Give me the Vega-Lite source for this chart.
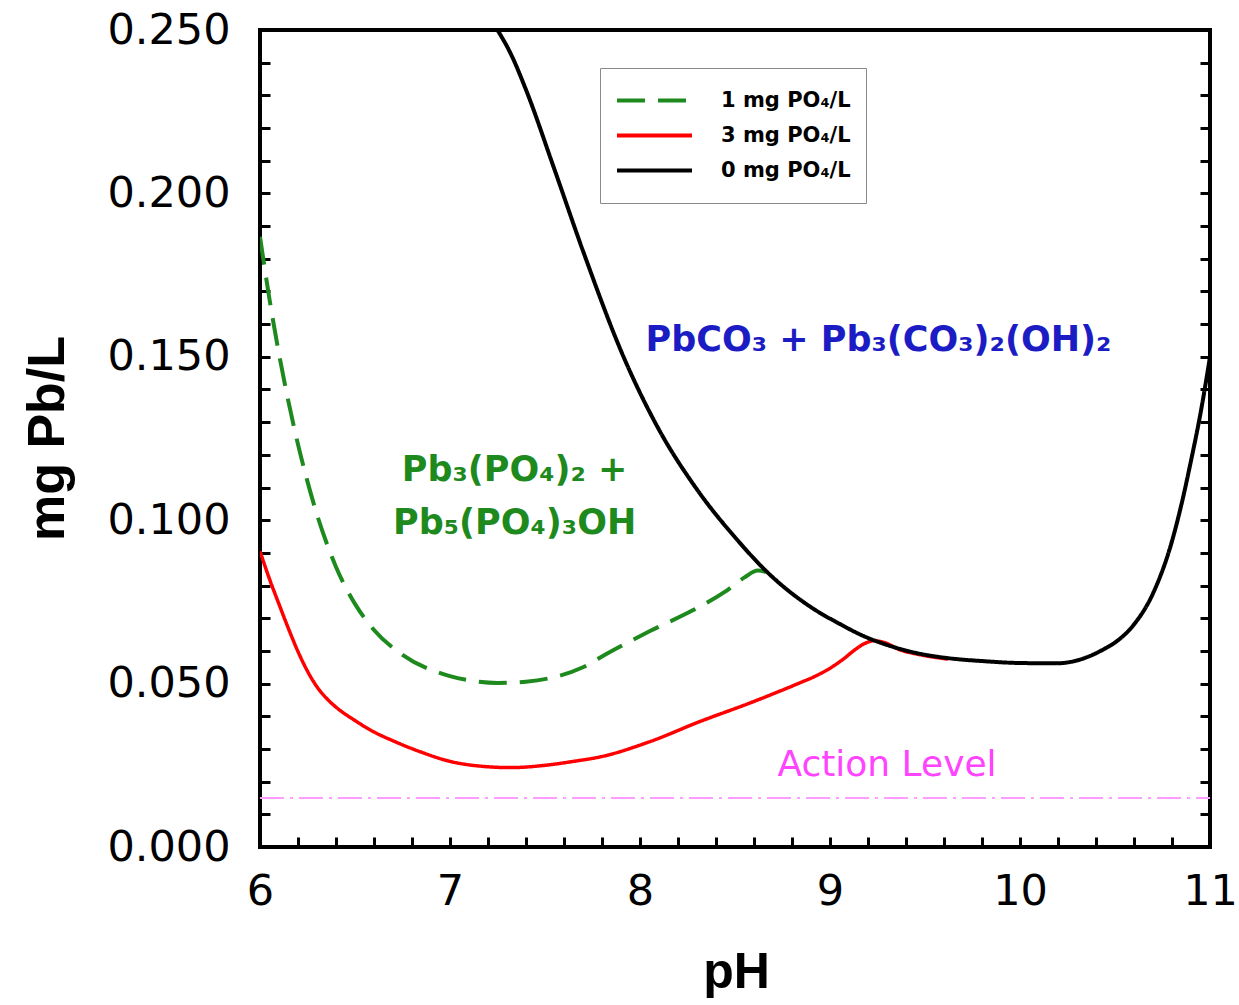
{
  "$schema": "https://vega.github.io/schema/vega-lite/v6.json",
  "autosize": {"type": "none"},
  "padding": {"left": 260, "top": 30, "right": 29, "bottom": 158},
  "width": 950,
  "height": 817,
  "background": "white",
  "config": {
    "view": {"stroke": "black", "strokeWidth": 4},
    "font": "Liberation Sans"
  },
  "datasets": {
    "curves": [
      {"series": "1 mg PO₄/L", "pH": 6.0, "pb": 0.1867},
      {"series": "1 mg PO₄/L", "pH": 6.05, "pb": 0.1676},
      {"series": "1 mg PO₄/L", "pH": 6.1, "pb": 0.1509},
      {"series": "1 mg PO₄/L", "pH": 6.15, "pb": 0.1362},
      {"series": "1 mg PO₄/L", "pH": 6.2, "pb": 0.1232},
      {"series": "1 mg PO₄/L", "pH": 6.25, "pb": 0.1118},
      {"series": "1 mg PO₄/L", "pH": 6.3, "pb": 0.1017},
      {"series": "1 mg PO₄/L", "pH": 6.35, "pb": 0.0931},
      {"series": "1 mg PO₄/L", "pH": 6.4, "pb": 0.0857},
      {"series": "1 mg PO₄/L", "pH": 6.5, "pb": 0.0744},
      {"series": "1 mg PO₄/L", "pH": 6.6, "pb": 0.0664},
      {"series": "1 mg PO₄/L", "pH": 6.75, "pb": 0.0588},
      {"series": "1 mg PO₄/L", "pH": 7.0, "pb": 0.0523},
      {"series": "1 mg PO₄/L", "pH": 7.1, "pb": 0.0510},
      {"series": "1 mg PO₄/L", "pH": 7.25, "pb": 0.0502},
      {"series": "1 mg PO₄/L", "pH": 7.4, "pb": 0.0506},
      {"series": "1 mg PO₄/L", "pH": 7.55, "pb": 0.0520},
      {"series": "1 mg PO₄/L", "pH": 7.7, "pb": 0.0550},
      {"series": "1 mg PO₄/L", "pH": 7.83, "pb": 0.0593},
      {"series": "1 mg PO₄/L", "pH": 7.95, "pb": 0.0630},
      {"series": "1 mg PO₄/L", "pH": 8.05, "pb": 0.0660},
      {"series": "1 mg PO₄/L", "pH": 8.28, "pb": 0.0725},
      {"series": "1 mg PO₄/L", "pH": 8.45, "pb": 0.0782},
      {"series": "1 mg PO₄/L", "pH": 8.55, "pb": 0.0825},
      {"series": "1 mg PO₄/L", "pH": 8.62, "pb": 0.0846},
      {"series": "1 mg PO₄/L", "pH": 8.67, "pb": 0.0840},
      {"series": "1 mg PO₄/L", "pH": 8.72, "pb": 0.0818},
      {"series": "3 mg PO₄/L", "pH": 6.0, "pb": 0.0905},
      {"series": "3 mg PO₄/L", "pH": 6.05, "pb": 0.0820},
      {"series": "3 mg PO₄/L", "pH": 6.1, "pb": 0.0743},
      {"series": "3 mg PO₄/L", "pH": 6.15, "pb": 0.0668},
      {"series": "3 mg PO₄/L", "pH": 6.2, "pb": 0.0598},
      {"series": "3 mg PO₄/L", "pH": 6.25, "pb": 0.0538},
      {"series": "3 mg PO₄/L", "pH": 6.3, "pb": 0.0490},
      {"series": "3 mg PO₄/L", "pH": 6.35, "pb": 0.0455},
      {"series": "3 mg PO₄/L", "pH": 6.4, "pb": 0.0428},
      {"series": "3 mg PO₄/L", "pH": 6.5, "pb": 0.0387},
      {"series": "3 mg PO₄/L", "pH": 6.6, "pb": 0.0352},
      {"series": "3 mg PO₄/L", "pH": 6.7, "pb": 0.0325},
      {"series": "3 mg PO₄/L", "pH": 6.85, "pb": 0.0290},
      {"series": "3 mg PO₄/L", "pH": 7.0, "pb": 0.0262},
      {"series": "3 mg PO₄/L", "pH": 7.15, "pb": 0.0248},
      {"series": "3 mg PO₄/L", "pH": 7.32, "pb": 0.0243},
      {"series": "3 mg PO₄/L", "pH": 7.5, "pb": 0.0250},
      {"series": "3 mg PO₄/L", "pH": 7.65, "pb": 0.0262},
      {"series": "3 mg PO₄/L", "pH": 7.8, "pb": 0.0277},
      {"series": "3 mg PO₄/L", "pH": 8.05, "pb": 0.0322},
      {"series": "3 mg PO₄/L", "pH": 8.32, "pb": 0.0385},
      {"series": "3 mg PO₄/L", "pH": 8.58, "pb": 0.0441},
      {"series": "3 mg PO₄/L", "pH": 8.84, "pb": 0.0502},
      {"series": "3 mg PO₄/L", "pH": 8.92, "pb": 0.0522},
      {"series": "3 mg PO₄/L", "pH": 9.0, "pb": 0.0547},
      {"series": "3 mg PO₄/L", "pH": 9.07, "pb": 0.0575},
      {"series": "3 mg PO₄/L", "pH": 9.13, "pb": 0.0603},
      {"series": "3 mg PO₄/L", "pH": 9.18, "pb": 0.0622},
      {"series": "3 mg PO₄/L", "pH": 9.23, "pb": 0.0631},
      {"series": "3 mg PO₄/L", "pH": 9.28, "pb": 0.0627},
      {"series": "3 mg PO₄/L", "pH": 9.37, "pb": 0.0603},
      {"series": "3 mg PO₄/L", "pH": 9.46, "pb": 0.0590},
      {"series": "3 mg PO₄/L", "pH": 9.62, "pb": 0.0575},
      {"series": "0 mg PO₄/L", "pH": 7.25, "pb": 0.2500},
      {"series": "0 mg PO₄/L", "pH": 7.32, "pb": 0.2427},
      {"series": "0 mg PO₄/L", "pH": 7.4, "pb": 0.2317},
      {"series": "0 mg PO₄/L", "pH": 7.55, "pb": 0.2073},
      {"series": "0 mg PO₄/L", "pH": 7.7, "pb": 0.1824},
      {"series": "0 mg PO₄/L", "pH": 7.92, "pb": 0.1491},
      {"series": "0 mg PO₄/L", "pH": 8.1, "pb": 0.1277},
      {"series": "0 mg PO₄/L", "pH": 8.3, "pb": 0.1094},
      {"series": "0 mg PO₄/L", "pH": 8.51, "pb": 0.0941},
      {"series": "0 mg PO₄/L", "pH": 8.67, "pb": 0.0841},
      {"series": "0 mg PO₄/L", "pH": 8.91, "pb": 0.0730},
      {"series": "0 mg PO₄/L", "pH": 9.05, "pb": 0.0683},
      {"series": "0 mg PO₄/L", "pH": 9.16, "pb": 0.0650},
      {"series": "0 mg PO₄/L", "pH": 9.37, "pb": 0.0606},
      {"series": "0 mg PO₄/L", "pH": 9.46, "pb": 0.0593},
      {"series": "0 mg PO₄/L", "pH": 9.62, "pb": 0.0578},
      {"series": "0 mg PO₄/L", "pH": 9.8, "pb": 0.0569},
      {"series": "0 mg PO₄/L", "pH": 10.0, "pb": 0.0563},
      {"series": "0 mg PO₄/L", "pH": 10.19, "pb": 0.0562},
      {"series": "0 mg PO₄/L", "pH": 10.28, "pb": 0.0568},
      {"series": "0 mg PO₄/L", "pH": 10.37, "pb": 0.0585},
      {"series": "0 mg PO₄/L", "pH": 10.44, "pb": 0.0605},
      {"series": "0 mg PO₄/L", "pH": 10.51, "pb": 0.0630},
      {"series": "0 mg PO₄/L", "pH": 10.6, "pb": 0.0681},
      {"series": "0 mg PO₄/L", "pH": 10.7, "pb": 0.0776},
      {"series": "0 mg PO₄/L", "pH": 10.8, "pb": 0.0936},
      {"series": "0 mg PO₄/L", "pH": 10.85, "pb": 0.1049},
      {"series": "0 mg PO₄/L", "pH": 10.9, "pb": 0.1182},
      {"series": "0 mg PO₄/L", "pH": 10.95, "pb": 0.1327},
      {"series": "0 mg PO₄/L", "pH": 11.0, "pb": 0.1500}
    ]
  },
  "resolve": {"axis": {"y": "independent"}},
  "encoding": {
    "x": {
      "field": "pH", "type": "quantitative",
      "scale": {"domain": [6, 11], "nice": false, "zero": false},
      "axis": {
        "values": [6, 6.2, 6.4, 6.6, 6.8, 7, 7.2, 7.4, 7.6, 7.8, 8, 8.2, 8.4, 8.6, 8.8, 9, 9.2, 9.4, 9.6, 9.8, 10, 10.2, 10.4, 10.6, 10.8, 11],
        "labelExpr": "datum.value % 1 === 0 ? format(datum.value, 'd') : ''",
        "labelOverlap": false, "labelFlush": false,
        "tickSize": -10, "tickWidth": 3, "tickColor": "black",
        "domain": false, "grid": false,
        "labelFont": "DejaVu Sans", "labelFontSize": 43, "labelColor": "black", "labelPadding": 33,
        "title": "pH",
        "titleFont": "Liberation Sans", "titleFontSize": 50, "titleFontWeight": "bold", "titleColor": "black",
        "titleX": 476, "titleY": 125, "titleAlign": "center", "titleBaseline": "middle"
      }
    },
    "y": {
      "field": "pb", "type": "quantitative",
      "scale": {"domain": [0, 0.25], "nice": false, "zero": true},
      "axis": null
    }
  },
  "layer": [
    {
      "data": {"values": [{"pH": 6, "pb": 0.015}, {"pH": 11, "pb": 0.015}]},
      "mark": {"type": "line", "color": "#ff9cff", "strokeWidth": 2, "strokeDash": [24, 6, 3, 6]},
      "encoding": {
        "y": {
          "field": "pb", "type": "quantitative",
          "axis": {
            "orient": "left",
            "values": [0, 0.01, 0.02, 0.03, 0.04, 0.05, 0.06, 0.07, 0.08, 0.09, 0.1, 0.11, 0.12, 0.13, 0.14, 0.15, 0.16, 0.17, 0.18, 0.19, 0.2, 0.21, 0.22, 0.23, 0.24, 0.25],
            "labelExpr": "abs(datum.value*20 - round(datum.value*20)) < 0.001 ? format(datum.value, '.3f') : ''",
            "labelOverlap": false,
            "labelFlush": false,
            "tickSize": -10, "tickWidth": 3, "tickColor": "black",
            "domain": false, "grid": false,
            "labelFont": "DejaVu Sans", "labelFontSize": 43, "labelColor": "black", "labelPadding": 40,
            "title": "mg Pb/L",
            "titleFont": "Liberation Sans", "titleFontSize": 52, "titleFontWeight": "bold", "titleColor": "black",
            "titleAngle": -90, "titleX": -213, "titleY": 408, "titleAlign": "center", "titleBaseline": "middle"
          }
        }
      }
    },
    {
      "data": {"name": "curves"},
      "transform": [{"filter": "datum.series === '1 mg PO₄/L'"}],
      "mark": {"type": "line", "strokeWidth": 4, "interpolate": "monotone", "clip": true},
      "encoding": {
        "color": {
          "field": "series", "type": "nominal",
          "scale": {"domain": ["1 mg PO₄/L", "3 mg PO₄/L", "0 mg PO₄/L"], "range": ["#1e8a1e", "#ff0000", "#000000"]},
          "legend": {
            "title": null, "orient": "none", "legendX": 340, "legendY": 38,
            "fillColor": "white", "strokeColor": "#8a8a8a", "cornerRadius": 0, "padding": 15,
            "symbolType": "stroke", "symbolSize": 5625, "symbolStrokeWidth": 4, "clipHeight": 35, "rowPadding": 0,
            "labelFont": "DejaVu Sans", "labelFontSize": 21, "labelFontWeight": "bold", "labelColor": "black", "labelOffset": 27
          }
        },
        "strokeDash": {
          "field": "series", "type": "nominal",
          "scale": {"domain": ["1 mg PO₄/L", "3 mg PO₄/L", "0 mg PO₄/L"], "range": [[28, 13], [1, 0], [1, 0]]},
          "legend": {
            "title": null, "orient": "none", "legendX": 340, "legendY": 38,
            "fillColor": "white", "strokeColor": "#8a8a8a", "cornerRadius": 0, "padding": 15,
            "symbolType": "stroke", "symbolSize": 5625, "symbolStrokeWidth": 4, "clipHeight": 35, "rowPadding": 0,
            "labelFont": "DejaVu Sans", "labelFontSize": 21, "labelFontWeight": "bold", "labelColor": "black", "labelOffset": 27
          }
        }
      }
    },
    {
      "data": {"name": "curves"},
      "transform": [{"filter": "datum.series === '3 mg PO₄/L'"}],
      "mark": {"type": "line", "strokeWidth": 3.5, "interpolate": "monotone", "clip": true},
      "encoding": {
        "color": {"field": "series", "type": "nominal"},
        "strokeDash": {"field": "series", "type": "nominal"}
      }
    },
    {
      "data": {"name": "curves"},
      "transform": [{"filter": "datum.series === '0 mg PO₄/L'"}],
      "mark": {"type": "line", "strokeWidth": 4, "interpolate": "monotone", "clip": true},
      "encoding": {
        "y": {
          "field": "pb", "type": "quantitative",
          "axis": {
            "orient": "right",
            "values": [0, 0.01, 0.02, 0.03, 0.04, 0.05, 0.06, 0.07, 0.08, 0.09, 0.1, 0.11, 0.12, 0.13, 0.14, 0.15, 0.16, 0.17, 0.18, 0.19, 0.2, 0.21, 0.22, 0.23, 0.24, 0.25],
            "labels": false, "domain": false, "grid": false, "title": null,
            "tickSize": -10, "tickWidth": 3, "tickColor": "black"
          }
        },
        "color": {"field": "series", "type": "nominal"},
        "strokeDash": {"field": "series", "type": "nominal"}
      }
    },
    {
      "data": {"values": [{"pH": 9.255, "pb": 0.155, "label": "PbCO₃ + Pb₃(CO₃)₂(OH)₂"}]},
      "mark": {"type": "text", "font": "DejaVu Sans", "fontSize": 35, "fontWeight": "bold", "color": "#1c1cc4", "align": "center", "baseline": "middle"},
      "encoding": {
        "text": {"field": "label"}
      }
    },
    {
      "data": {"values": [
        {"pH": 7.34, "pb": 0.1154, "label": "Pb₃(PO₄)₂ +"},
        {"pH": 7.34, "pb": 0.0991, "label": "Pb₅(PO₄)₃OH"}
      ]},
      "mark": {"type": "text", "font": "DejaVu Sans", "fontSize": 35, "fontWeight": "bold", "color": "#1e8a1e", "align": "center", "baseline": "middle"},
      "encoding": {
        "text": {"field": "label"}
      }
    },
    {
      "data": {"values": [{"pH": 9.3, "pb": 0.0251, "label": "Action Level"}]},
      "mark": {"type": "text", "font": "DejaVu Sans", "fontSize": 36, "color": "#ff44ff", "align": "center", "baseline": "middle"},
      "encoding": {
        "text": {"field": "label"}
      }
    }
  ]
}
